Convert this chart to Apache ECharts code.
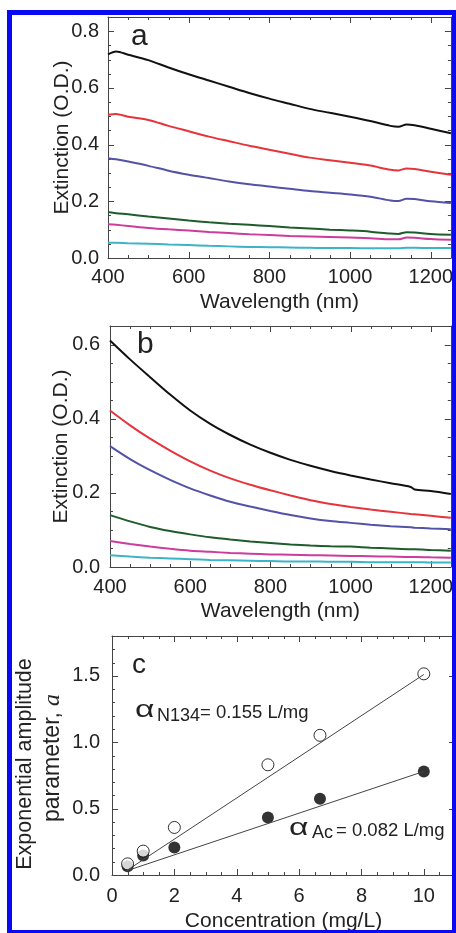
<!DOCTYPE html>
<html>
<head>
<meta charset="utf-8">
<script src="https://cdn.jsdelivr.net/npm/echarts@6/dist/echarts.min.js"></script>
<style>
html,body{margin:0;padding:0;background:#fff;overflow:hidden;}
#wrap{position:relative;width:456px;height:933px;overflow:hidden;}
#chart{position:absolute;left:0;top:0;width:456px;height:933px;}
#frame{position:absolute;left:7px;top:10px;width:450px;height:925px;box-sizing:border-box;border:5px solid #0a0af2;pointer-events:none;}
</style>
</head>
<body>
<div id="wrap"><div id="chart"></div><div id="frame"></div></div>
<script>
// ---------- Panel a data ----------
var waveA = [400, 420, 450, 500, 550, 600, 650, 700, 750, 800, 850, 900, 950, 1000, 1050, 1100, 1120, 1140, 1160, 1200, 1250];
var blackA = [0.718, 0.728, 0.717, 0.698, 0.672, 0.648, 0.626, 0.604, 0.582, 0.562, 0.544, 0.526, 0.512, 0.498, 0.483, 0.466, 0.463, 0.471, 0.468, 0.456, 0.440];
var redA = [0.505, 0.508, 0.498, 0.487, 0.466, 0.447, 0.428, 0.412, 0.396, 0.382, 0.368, 0.354, 0.345, 0.336, 0.326, 0.311, 0.309, 0.316, 0.314, 0.304, 0.294];
var blueA = [0.352, 0.348, 0.340, 0.325, 0.308, 0.294, 0.282, 0.270, 0.260, 0.252, 0.244, 0.236, 0.230, 0.224, 0.216, 0.203, 0.201, 0.209, 0.208, 0.200, 0.194];
var greenA = [0.162, 0.158, 0.154, 0.146, 0.139, 0.132, 0.126, 0.121, 0.117, 0.113, 0.108, 0.104, 0.100, 0.097, 0.093, 0.086, 0.085, 0.091, 0.090, 0.085, 0.082];
var magentaA = [0.119, 0.117, 0.113, 0.106, 0.101, 0.097, 0.092, 0.088, 0.084, 0.081, 0.078, 0.076, 0.074, 0.072, 0.070, 0.066, 0.066, 0.072, 0.071, 0.067, 0.064];
var cyanA = [0.054, 0.054, 0.052, 0.050, 0.048, 0.046, 0.043, 0.041, 0.039, 0.038, 0.037, 0.036, 0.035, 0.035, 0.034, 0.034, 0.034, 0.036, 0.036, 0.035, 0.035];

// ---------- Panel b data ----------
var waveB = [400, 450, 500, 550, 600, 650, 700, 750, 800, 850, 900, 950, 1000, 1050, 1100, 1150, 1160, 1200, 1250];
var blackB = [0.611, 0.560, 0.512, 0.465, 0.422, 0.386, 0.356, 0.330, 0.308, 0.289, 0.273, 0.259, 0.247, 0.236, 0.226, 0.216, 0.209, 0.205, 0.197];
var redB = [0.422, 0.382, 0.346, 0.314, 0.285, 0.260, 0.239, 0.222, 0.207, 0.193, 0.180, 0.170, 0.162, 0.155, 0.149, 0.143, 0.142, 0.138, 0.133];
var blueB = [0.326, 0.291, 0.261, 0.235, 0.212, 0.193, 0.176, 0.163, 0.151, 0.140, 0.131, 0.124, 0.119, 0.114, 0.110, 0.107, 0.106, 0.104, 0.102];
var greenB = [0.140, 0.123, 0.108, 0.097, 0.088, 0.080, 0.074, 0.069, 0.065, 0.061, 0.058, 0.056, 0.055, 0.052, 0.050, 0.048, 0.048, 0.046, 0.044];
var magentaB = [0.070, 0.062, 0.055, 0.049, 0.044, 0.041, 0.038, 0.036, 0.034, 0.033, 0.032, 0.031, 0.030, 0.029, 0.028, 0.027, 0.027, 0.026, 0.025];
var cyanB = [0.032, 0.028, 0.025, 0.023, 0.021, 0.019, 0.018, 0.017, 0.016, 0.015, 0.015, 0.014, 0.014, 0.013, 0.013, 0.013, 0.013, 0.012, 0.012];

// ---------- Panel c data ----------
var concentration = [0.5, 1, 2, 5, 6.67, 10];
var ampN134 = [0.084, 0.180, 0.358, 0.830, 1.052, 1.515];
var ampAc = [0.065, 0.147, 0.207, 0.433, 0.575, 0.780];
var fitX = [0.45, 10];
var fitN134 = [0.03, 1.51];
var fitAc = [0.03, 0.78];

// ---------- Axis ranges and tick marks ----------
var rangeXAB = {min: 400, max: 1250, interval: 200};
var rangeYA = {min: 0, max: 0.85, interval: 0.2};
var rangeYB = {min: 0, max: 0.65, interval: 0.2};
var rangeXC = {min: 0, max: 11, interval: 2};
var rangeYC = {min: 0, max: 1.8, interval: 0.5};

var majorXAB = [400, 600, 800, 1000, 1200];
var minorXAB = [450, 500, 550, 650, 700, 750, 850, 900, 950, 1050, 1100, 1150];
var majorYA = [0.2, 0.4, 0.6, 0.8];
var minorYA = [0.05, 0.1, 0.15, 0.25, 0.3, 0.35, 0.45, 0.5, 0.55, 0.65, 0.7, 0.75];
var majorYB = [0.2, 0.4, 0.6];
var minorYB = [0.05, 0.1, 0.15, 0.25, 0.3, 0.35, 0.45, 0.5, 0.55];
var majorXC = [2, 4, 6, 8, 10];
var minorXC = [0.5, 1, 1.5, 2.5, 3, 3.5, 4.5, 5, 5.5, 6.5, 7, 7.5, 8.5, 9, 9.5, 10.5];
var majorYC = [0.5, 1.0, 1.5];
var minorYC = [0.1, 0.2, 0.3, 0.4, 0.6, 0.7, 0.8, 0.9, 1.1, 1.2, 1.3, 1.4, 1.6, 1.7];

var seriesColors = ['#111111', '#e6343c', '#5252a8', '#1e5c2c', '#cc3c9c', '#3cb4c8'];

var FONT = "'Liberation Sans', Arial, sans-serif";
var AXIS_COLOR = '#444';
var TICK_COLOR = '#444';
var TEXT_COLOR = '#222';

var xAxes = [], yAxes = [];

function makeAxis(kind, gi, r, position, withLabels, extra) {
  var ax = {
    type: 'value', gridIndex: gi, min: r.min, max: r.max, interval: r.interval,
    position: position,
    axisLine: {show: true, onZero: false, lineStyle: {color: AXIS_COLOR, width: 1}},
    axisTick: {show: false},
    minorTick: {show: false},
    axisLabel: {show: false},
    splitLine: {show: false}
  };
  if (withLabels) {
    ax.axisLabel = {
      show: true, fontSize: 20, color: TEXT_COLOR, fontFamily: FONT,
      showMaxLabel: false, margin: extra.margin, formatter: extra.formatter
    };
    if (extra.name) {
      ax.name = extra.name;
      ax.nameLocation = 'middle';
      ax.nameGap = extra.nameGap;
      ax.nameMoveOverlap = false;
      ax.nameTextStyle = {fontSize: 21, color: TEXT_COLOR, fontFamily: FONT};
    }
  }
  var arr = kind === 'x' ? xAxes : yAxes;
  arr.push(ax);
  return arr.length - 1;
}

function buildGrid(gi, xr, yr, xOpt, yOpt) {
  var xi = makeAxis('x', gi, xr, 'bottom', true, xOpt);
  makeAxis('x', gi, xr, 'top', false);
  var yi = makeAxis('y', gi, yr, 'left', true, yOpt);
  makeAxis('y', gi, yr, 'right', false);
  return {x: xi, y: yi};
}

var fmtInt = function (v) { return String(Math.round(v)); };
var fmt1 = function (v) { return v.toFixed(1); };

var axA = buildGrid(0, rangeXAB, rangeYA,
  {margin: 9, formatter: fmtInt, name: 'Wavelength (nm)', nameGap: 34},
  {margin: 9, formatter: fmt1, name: 'Extinction (O.D.)', nameGap: 35});
var axB = buildGrid(1, rangeXAB, rangeYB,
  {margin: 10, formatter: fmtInt, name: 'Wavelength (nm)', nameGap: 34},
  {margin: 10, formatter: fmt1, name: 'Extinction (O.D.)', nameGap: 38});
var axC = buildGrid(2, rangeXC, rangeYC,
  {margin: 11, formatter: fmtInt, name: 'Concentration (mg/L)', nameGap: 36},
  {margin: 12, formatter: fmt1});

function zip(xs, ys) { return xs.map(function (x, i) { return [x, ys[i]]; }); }

var series = [];
var setsA = [blackA, redA, blueA, greenA, magentaA, cyanA];
var setsB = [blackB, redB, blueB, greenB, magentaB, cyanB];
setsA.forEach(function (vals, k) {
  series.push({type: 'line', xAxisIndex: axA.x, yAxisIndex: axA.y, data: zip(waveA, vals),
    showSymbol: false, symbol: 'none', smooth: 0.3, lineStyle: {color: seriesColors[k], width: 2}, animation: false});
});
setsB.forEach(function (vals, k) {
  series.push({type: 'line', xAxisIndex: axB.x, yAxisIndex: axB.y, data: zip(waveB, vals),
    showSymbol: false, symbol: 'none', smooth: 0.3, lineStyle: {color: seriesColors[k], width: 2}, animation: false});
});
series.push({type: 'line', xAxisIndex: axC.x, yAxisIndex: axC.y, data: zip(fitX, fitN134),
  symbol: 'none', lineStyle: {color: '#444', width: 1}, animation: false});
series.push({type: 'line', xAxisIndex: axC.x, yAxisIndex: axC.y, data: zip(fitX, fitAc),
  symbol: 'none', lineStyle: {color: '#444', width: 1}, animation: false});
series.push({type: 'scatter', xAxisIndex: axC.x, yAxisIndex: axC.y, data: zip(concentration, ampAc),
  symbol: 'circle', symbolSize: 12, itemStyle: {color: '#000'}, animation: false});
series.push({type: 'scatter', xAxisIndex: axC.x, yAxisIndex: axC.y, data: zip(concentration, ampN134),
  symbol: 'circle', symbolSize: 12, itemStyle: {color: '#fff', borderColor: '#000', borderWidth: 1}, animation: false});

// Inward tick marks on all four sides, placed through the axes' own scales.
function tickSeries(ax, xr, yr, majX, minX, majY, minY) {
  var data = [];
  majX.forEach(function (v) { data.push([v, 0, 6]); });
  minX.forEach(function (v) { data.push([v, 0, 3]); });
  majY.forEach(function (v) { data.push([v, 1, 6]); });
  minY.forEach(function (v) { data.push([v, 1, 3]); });
  return {
    type: 'custom', xAxisIndex: ax.x, yAxisIndex: ax.y, silent: true, animation: false, clip: false, z: 3,
    data: data,
    renderItem: function (params, api) {
      var v = api.value(0), isY = api.value(1) === 1, len = api.value(2);
      var st = {stroke: TICK_COLOR, lineWidth: 1};
      if (!isY) {
        var b = api.coord([v, yr.min]), t = api.coord([v, yr.max]);
        var x = Math.round(b[0]) + 0.5;
        return {type: 'group', children: [
          {type: 'line', shape: {x1: x, y1: b[1], x2: x, y2: b[1] - len}, style: st},
          {type: 'line', shape: {x1: x, y1: t[1], x2: x, y2: t[1] + len}, style: st}
        ]};
      }
      var l = api.coord([xr.min, v]), r = api.coord([xr.max, v]);
      var y = Math.round(l[1]) + 0.5;
      return {type: 'group', children: [
        {type: 'line', shape: {x1: l[0], y1: y, x2: l[0] + len, y2: y}, style: st},
        {type: 'line', shape: {x1: r[0], y1: y, x2: r[0] - len, y2: y}, style: st}
      ]};
    }
  };
}
series.push(tickSeries(axA, rangeXAB, rangeYA, majorXAB, minorXAB, majorYA, minorYA));
series.push(tickSeries(axB, rangeXAB, rangeYB, majorXAB, minorXAB, majorYB, minorYB));
series.push(tickSeries(axC, rangeXC, rangeYC, majorXC, minorXC, majorYC, minorYC));

function txt(text, x, y, font, extra) {
  return {type: 'text', x: x, y: y, z: 50,
    style: Object.assign({text: text, font: font, fill: TEXT_COLOR,
      align: 'left', verticalAlign: 'middle', textAlign: 'left', textVerticalAlign: 'middle'}, extra || {})};
}
function sans(size) { return size + 'px ' + FONT; }

var graphics = [
  txt('a', 131, 36.5, sans(30)),
  txt('b', 137, 344.5, sans(30)),
  txt('c', 132, 665, sans(28)),
  Object.assign(txt('α', 135, 710.5, sans(24)), {scaleX: 1.4}),
  txt('N134', 157, 716.4, sans(18)),
  txt('= 0.155 L/mg', 200, 712.5, sans(18.5)),
  Object.assign(txt('α', 289, 828.3, sans(24)), {scaleX: 1.4}),
  txt('Ac', 312, 832.7, sans(18)),
  txt('= 0.082 L/mg', 336, 830.5, sans(18.5)),
  Object.assign(txt('Exponential amplitude', 25, 764, sans(21.5), {align: 'center', textAlign: 'center'}), {rotation: Math.PI / 2}),
  Object.assign(txt('parameter,', 53, 822, sans(23)), {rotation: Math.PI / 2}),
  Object.assign(txt('a', 53, 706, "italic 24px 'Liberation Serif', serif"), {rotation: Math.PI / 2})
];

var option = {
  animation: false,
  grid: [
    {left: 108, top: 17, width: 344, height: 241},
    {left: 110, top: 326, width: 344, height: 241},
    {left: 112, top: 636, width: 343, height: 241}
  ],
  xAxis: xAxes,
  yAxis: yAxes,
  series: series,
  graphic: graphics
};

var chart = echarts.init(document.getElementById('chart'));
chart.setOption(option);
</script>
</body>
</html>
